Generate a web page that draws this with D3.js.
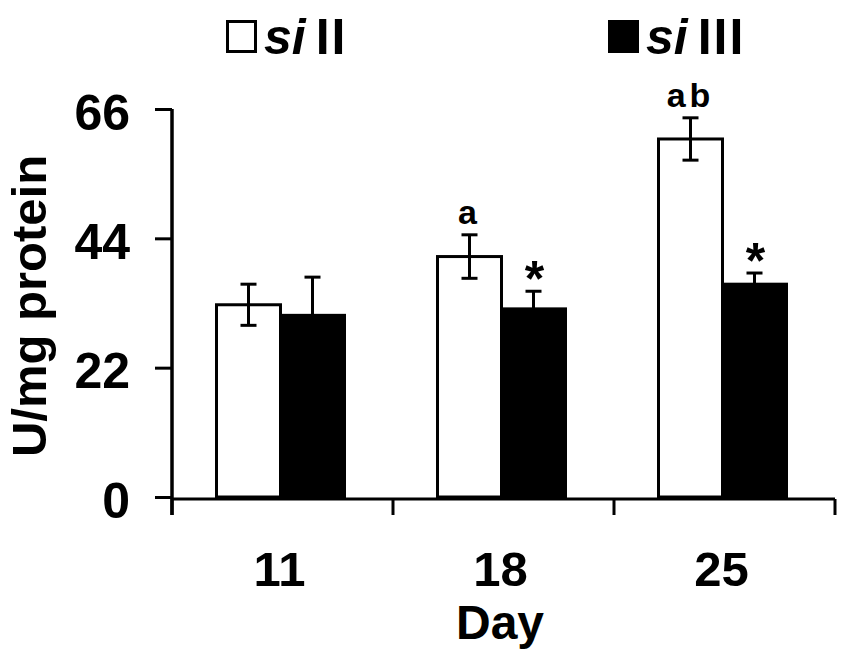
<!DOCTYPE html>
<html><head><meta charset="utf-8">
<script src="https://cdn.jsdelivr.net/npm/d3@7"></script>
<style>body{margin:0;background:#fff}svg{display:block}text{font-family:"Liberation Sans",Arial,sans-serif;font-weight:bold;fill:#000}</style>
</head><body><svg id="c" width="848" height="656"></svg>
<script>
const days = ["11","18","25"];
const series = ["si II","si III"];
const siII = [32.7, 40.9, 60.9];
const siIIErr = [3.5, 3.7, 3.6];
const siIII = [30.9, 32.0, 36.2];
const siIIIErr = [6.5, 3.0, 1.9];
const yTicks = [0,22,44,66];
const sigII = ["", "a", "ab"];
const sigIII = ["", "*", "*"];

const svg = d3.select("#c");
const y = d3.scaleLinear().domain([0,66]).range([497,109]);
const x = d3.scaleBand().domain(days).range([172,835]);
const xs = d3.scaleBand().domain(series).range([0,128]);
const off = (x.bandwidth()-128)/2 - 2;

const rows = days.map((d,i)=>({d, vals:[{s:series[0],v:siII[i],e:siIIErr[i],sig:sigII[i],fill:"#fff"},{s:series[1],v:siIII[i],e:siIIIErr[i],sig:sigIII[i],fill:"#000"}]}));

const g = svg.append("g");
rows.forEach(r=>{
  r.vals.forEach(b=>{
    const bx = x(r.d)+off+xs(b.s);
    g.append("rect").attr("x",bx).attr("y",y(b.v)).attr("width",xs.bandwidth()).attr("height",y(0)-y(b.v))
      .attr("fill",b.fill).attr("stroke","#000").attr("stroke-width",3);
    const cx = bx+xs.bandwidth()/2;
    g.append("line").attr("x1",cx).attr("x2",cx).attr("y1",y(b.v+b.e)).attr("y2",y(b.v-b.e)).attr("stroke","#000").attr("stroke-width",3);
    [b.v+b.e,b.v-b.e].forEach(v=>g.append("line").attr("x1",cx-8).attr("x2",cx+8).attr("y1",y(v)).attr("y2",y(v)).attr("stroke","#000").attr("stroke-width",3));
    if(b.sig){
      const star = b.sig==="*";
      g.append("text").attr("x",cx+(star?1:0)).attr("y",y(b.v+b.e)+(star?5:-11)).attr("text-anchor","middle")
        .style("font-size",star?"50px":"34px").style("letter-spacing",star?"0":"4px").text(b.sig);
    }
  });
});

// y axis
const ya = svg.append("g").attr("transform","translate(172,0)")
  .call(d3.axisLeft(y).tickValues(yTicks).tickSize(17).tickPadding(25).tickFormat(d3.format("d")));
ya.select(".domain").remove();
ya.selectAll(".tick line").attr("stroke","#000").attr("stroke-width",3);
ya.selectAll(".tick text").style("font-size","50px").attr("dy","0.4em");
svg.append("line").attr("x1",172).attr("x2",172).attr("y1",109).attr("y2",515).attr("stroke","#000").attr("stroke-width",3.5);

// x axis
const xa = svg.append("g").attr("transform","translate(0,499)")
  .call(d3.axisBottom(x).tickSize(0).tickPadding(87));
xa.select(".domain").attr("stroke","#000").attr("stroke-width",3).attr("d","M172,0H835");
xa.selectAll(".tick text").style("font-size","49px").attr("dy","0");
xa.selectAll(".tick").attr("transform",d=>`translate(${x(d)+x.bandwidth()/2-3},0)`);
const edges = days.map(d=>x(d)).concat([x(days[days.length-1])+x.bandwidth()]);
svg.selectAll("line.xt").data(edges).enter().append("line").attr("class","xt")
  .attr("x1",d=>d).attr("x2",d=>d).attr("y1",499).attr("y2",515).attr("stroke","#000").attr("stroke-width",3);

svg.append("text").attr("x",500).attr("y",639).attr("text-anchor","middle").style("font-size","48px").text("Day");
svg.append("text").attr("transform","translate(46,306) rotate(-90)").attr("text-anchor","middle").style("font-size","49px").text("U/mg protein");

// legend
const leg = [{s:series[0],x:226,fill:"#fff",rest:"II"},{s:series[1],x:608,fill:"#000",rest:"III"}];
leg.forEach(l=>{
  svg.append("rect").attr("x",l.x+1.5).attr("y",21.5).attr("width",28).attr("height",30).attr("fill",l.fill).attr("stroke","#000").attr("stroke-width",3);
  const t = svg.append("text").attr("x",l.x+38).attr("y",54).style("font-size","50px");
  t.append("tspan").style("font-style","italic").text("si");
  t.append("tspan").attr("dx","10").style("letter-spacing","2px").text(l.rest);
});
</script></body></html>
